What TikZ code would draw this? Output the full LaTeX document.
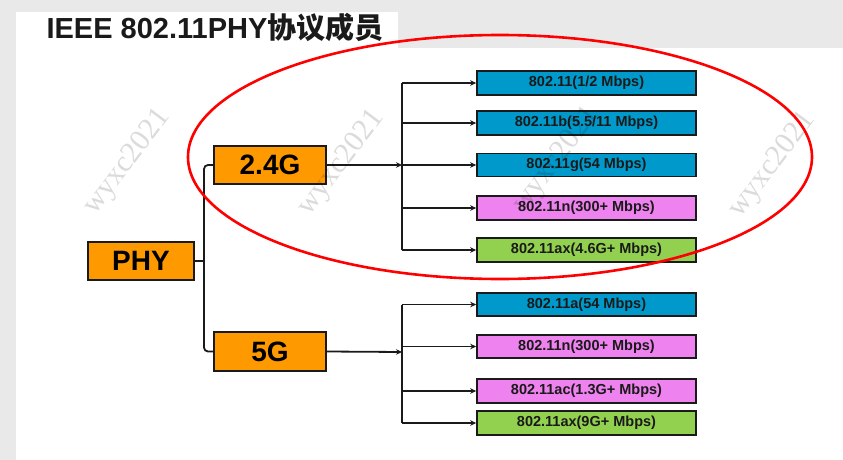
\documentclass[tikz,border=0pt]{standalone}
\usepackage{fontspec}
\setmainfont{Liberation Sans}
\newfontfamily\cjk{Noto Sans CJK SC}
\newfontfamily\wmfont{Liberation Serif}
\usetikzlibrary{arrows.meta}
\definecolor{bggrey}{HTML}{E9E9E9}
\definecolor{orng}{HTML}{FF9900}
\definecolor{blu}{HTML}{0099CC}
\definecolor{pnk}{HTML}{EE82EE}
\definecolor{grn}{HTML}{92D050}
\definecolor{ink}{HTML}{1A1A1A}
\begin{document}
\begin{tikzpicture}[x=1pt,y=-1pt,
  orangebox/.style={draw=ink, line width=1.6pt, fill=orng, minimum width=112pt, minimum height=38pt, inner sep=0pt, font=\fontsize{28}{28}\selectfont\bfseries, text=black},
  ratebox/.style={draw=ink, line width=1.6pt, minimum width=219pt, minimum height=24pt, inner sep=0pt, font=\fontsize{14.5}{14.5}\selectfont\bfseries, text=ink},
  conn/.style={line width=1.8pt, draw=ink},
  arr/.style={conn, -{Stealth[length=6pt,width=5.5pt]}},
  wm/.style={rotate=53, font=\wmfont\fontsize{30}{30}\selectfont, text=black, opacity=0.14}
]
\fill[bggrey] (0,0) rectangle (843,460);
\fill[white] (16,48) rectangle (843,460);
\fill[white] (16,12) rectangle (398,48);
\useasboundingbox (0,0) rectangle (843,460);

\node[anchor=base west, font=\fontsize{29}{29}\selectfont\bfseries, text=ink] (title) at (43,39) {IEEE 802.11PHY{\cjk 协议成员}};

\node[orangebox, minimum width=106pt] (phy) at (141,261) {PHY};
\node[orangebox] (g24) at (270,165) {2.4G};
\node[orangebox, minimum height=39pt] (g5) at (270,351.5) {5G};

\node[ratebox, fill=blu] (k1) at (586.5,83) {802.11(1/2 Mbps)};
\node[ratebox, fill=blu] (k2) at (586.5,123) {802.11b(5.5/11 Mbps)};
\node[ratebox, fill=blu, minimum height=23pt] (k3) at (586.5,165) {802.11g(54 Mbps)};
\node[ratebox, fill=pnk] (k4) at (586.5,208) {802.11n(300+ Mbps)};
\node[ratebox, fill=grn] (k5) at (586.5,250) {802.11ax(4.6G+ Mbps)};

\node[ratebox, fill=blu, minimum height=23pt] (f1) at (586.5,304.5) {802.11a(54 Mbps)};
\node[ratebox, fill=pnk, minimum height=23pt] (f2) at (586.5,346.5) {802.11n(300+ Mbps)};
\node[ratebox, fill=pnk] (f3) at (586.5,391) {802.11ac(1.3G+ Mbps)};
\node[ratebox, fill=grn] (f4) at (586.5,423) {802.11ax(9G+ Mbps)};

\coordinate (b0) at (204,261);
\draw[conn] (phy.east) -- (b0);
\draw[conn, rounded corners=4pt] (g24.west) -| (b0) |- (g5.west);

\coordinate (bus24) at (402,165);
\draw[arr] (g24.east) -- (bus24);
\draw[conn] (k1.west -| bus24) -- (k5.west -| bus24);
\foreach \n in {k1,k2,k3,k4,k5} \draw[arr] (\n.west -| bus24) -- (\n.west);

\coordinate (bus5) at (402,352);
\draw[arr] (g5.east) -- (bus5);
\draw[conn] (f1.west -| bus5) -- (f4.west -| bus5);
\foreach \n in {f1,f2,f3,f4} \draw[arr] (\n.west -| bus5) -- (\n.west);

\node[wm] (w1) at (128,162) {wyxc2021};
\node[wm] (w2) at (342,163) {wyxc2021};
\node[wm] (w3) at (557,160) {wyxc2021};
\node[wm] (w4) at (773,165) {wyxc2021};

\draw[red, line width=2.6pt] (500,157) ellipse [x radius=312pt, y radius=122pt];
\end{tikzpicture}
\end{document}
